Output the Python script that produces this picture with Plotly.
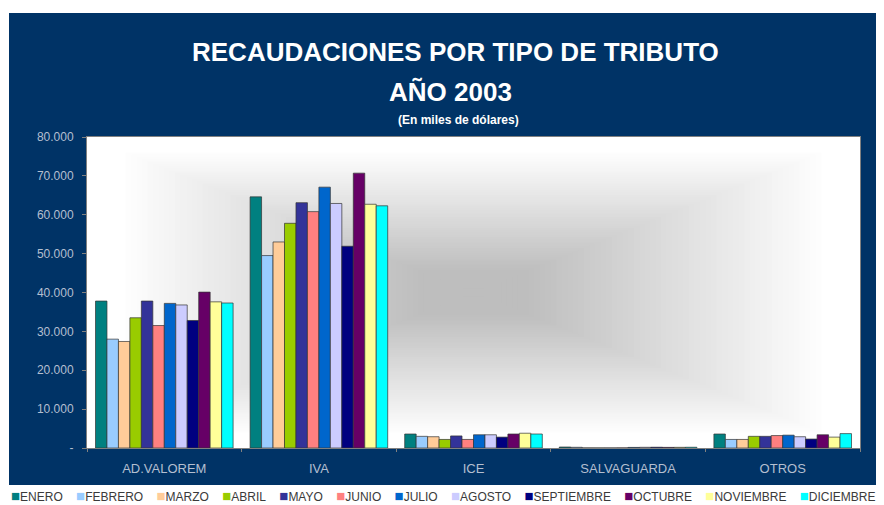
import plotly.graph_objects as go

# Categorias del eje x y meses (series)
categorias = ["AD.VALOREM", "IVA", "ICE", "SALVAGUARDA", "OTROS"]
meses = ["ENERO", "FEBRERO", "MARZO", "ABRIL", "MAYO", "JUNIO", "JULIO",
         "AGOSTO", "SEPTIEMBRE", "OCTUBRE", "NOVIEMBRE", "DICIEMBRE"]
colores = ["#008080", "#99CCFF", "#FFCC99", "#99CC00", "#333399", "#FF8080",
           "#0066CC", "#CCCCFF", "#000080", "#660066", "#FFFF99", "#00FFFF"]

# Recaudacion en miles de dolares, por categoria
enero = [37800, 64600, 3600, 250, 3600]
febrero = [28000, 49500, 3000, 180, 2200]
marzo = [27400, 53000, 2900, 20, 2200]
abril = [33500, 57800, 2200, 10, 3000]
mayo = [37800, 63100, 3100, 10, 3000]
junio = [31500, 60800, 2200, 30, 3200]
julio = [37200, 67100, 3400, 150, 3300]
agosto = [36800, 62900, 3400, 180, 2900]
septiembre = [32800, 51900, 2800, 200, 2300]
octubre = [40100, 70700, 3600, 160, 3400]
noviembre = [37600, 62700, 3800, 170, 2800]
diciembre = [37300, 62300, 3600, 190, 3700]

series = [enero, febrero, marzo, abril, mayo, junio, julio,
          agosto, septiembre, octubre, noviembre, diciembre]

y_ticks = [0, 10000, 20000, 30000, 40000, 50000, 60000, 70000, 80000]
y_labels = ["-" if v == 0 else f"{v:,}".replace(",", ".") for v in y_ticks]

# Window geometry (the page body adds an 8px margin around the figure)
WIN_W, WIN_H, OFF = 884, 505, 8
L, R, T, B = 87, 860, 137, 448   # plot area in window pixels
NAVY = "#003366"


def fx(x):
    return (x - L) / (R - L)


def fy(y):
    return (B - y) / (B - T)


fig = go.Figure()
for mes, color, valores in zip(meses, colores, series):
    fig.add_trace(go.Bar(
        x=categorias, y=valores, name=mes,
        marker=dict(color=color, line=dict(color="#333333", width=0.7)),
        showlegend=False,
    ))

# Navy panel behind the chart
shapes = [dict(type="rect", xref="paper", yref="paper", layer="below",
               x0=fx(9), x1=fx(WIN_W + 5), y0=fy(485), y1=fy(13),
               fillcolor=NAVY, line=dict(width=0))]

# Rectangular "from center" gray gradient in the plot area
n = 70
for i in range(n):
    t = 1 - i / n
    k = min(1.0, max(0.0, (t - 0.15) / 0.77))
    g = int(round(190 + 65 * k))
    shapes.append(dict(type="rect", xref="paper", yref="paper", layer="below",
                       x0=0.5 - 0.5 * t, x1=0.5 + 0.5 * t,
                       y0=0.5 - 0.5 * t, y1=0.5 + 0.5 * t,
                       fillcolor=f"rgb({g},{g},{g})", line=dict(width=0)))

title_font = "Liberation Sans Narrow, Arial Narrow, Arial, sans-serif"
annotations = [
    dict(text="<b>RECAUDACIONES POR TIPO DE TRIBUTO</b>", x=fx(455), y=fy(52),
         font=dict(family=title_font, size=26, color="white")),
    dict(text="<b>AÑO 2003</b>", x=fx(450), y=fy(92),
         font=dict(family=title_font, size=26, color="white")),
    dict(text="<b>(En miles de dólares)</b>", x=fx(458), y=fy(120),
         font=dict(family=title_font, size=12, color="white")),
]

# Legend line below the navy panel
gap = "&nbsp;" * 4
legend_txt = gap.join(
    f'<span style="color:{c};font-size:15px">■</span>{m}'
    for m, c in zip(meses, colores))
annotations.append(dict(text=legend_txt, x=fx(9), y=fy(495), xanchor="left",
                        font=dict(family="Liberation Sans, Arial, sans-serif",
                                  size=12, color="#3a3a3a")))

for a in annotations:
    a.update(xref="paper", yref="paper", showarrow=False)
    a.setdefault("xanchor", "center")
    a.setdefault("yanchor", "middle")

fig.update_layout(
    width=WIN_W - OFF, height=WIN_H - OFF,
    margin=dict(l=L - OFF, r=WIN_W - R, t=T - OFF, b=WIN_H - B),
    paper_bgcolor="white",
    plot_bgcolor="white",
    barmode="group",
    bargap=0.11,
    bargroupgap=0,
    shapes=shapes,
    annotations=annotations,
    font=dict(family="Liberation Sans, Arial, sans-serif", size=12),
)
fig.update_xaxes(
    showgrid=False, tickson="boundaries", ticks="outside", ticklen=3,
    tickcolor="#808080", showline=True, linecolor="#808080", mirror=True,
    ticklabelstandoff=8,
    tickfont=dict(size=13, color="#b4bfd0"),
)
fig.update_yaxes(
    range=[0, 80000], tickvals=y_ticks, ticktext=y_labels, showgrid=False,
    zeroline=False, ticks="outside", ticklen=4, tickcolor="#808080",
    showline=True, linecolor="#808080", mirror=True,
    ticklabelstandoff=6,
    tickfont=dict(size=12, color="#b4bfd0"),
)

fig.write_html("out.html")
